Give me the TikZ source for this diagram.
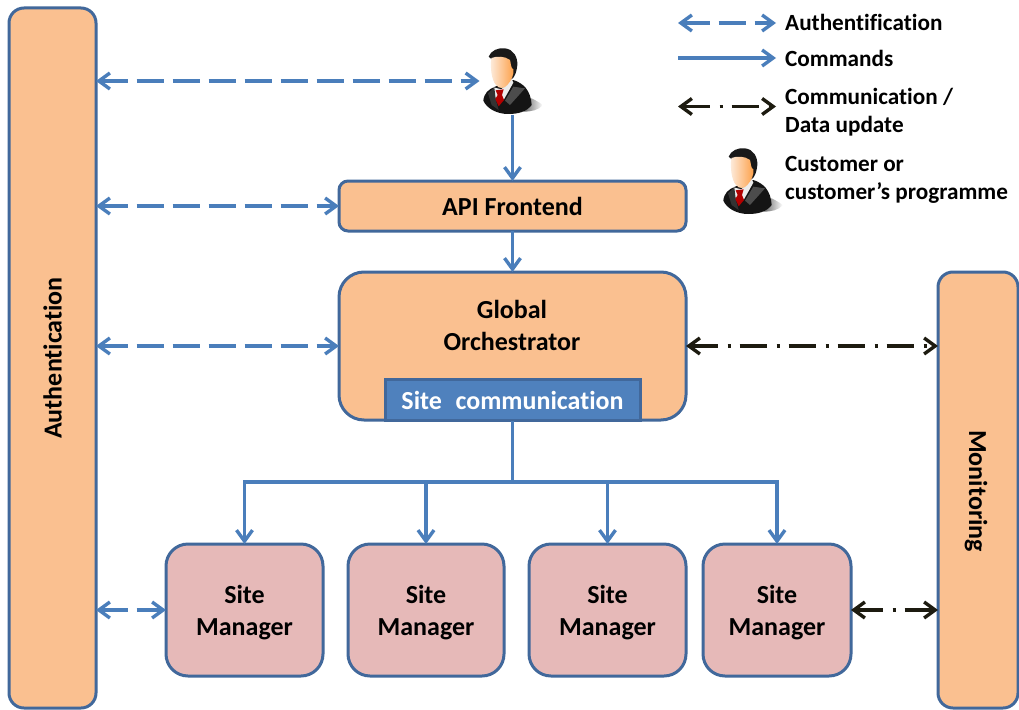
\documentclass[tikz,border=0pt]{standalone}
\usepackage{fontspec}
\setmainfont{Carlito}[Ligatures=CommonOff]
\usetikzlibrary{arrows.meta,calc}
\definecolor{edgeblue}{HTML}{41689B}
\definecolor{lineblue}{HTML}{4A7EBB}
\definecolor{fillblue}{HTML}{4F81BD}
\definecolor{orangebox}{HTML}{FAC090}
\definecolor{pinkbox}{HTML}{E6B9B8}
\definecolor{darkline}{HTML}{1D1B10}
\newcommand{\sitemgr}{\raisebox{-9.5pt}[0pt][0pt]{\begin{tabular}{@{}c@{}}Site\\Manager\end{tabular}}}
\tikzset{
  x=1pt,y=-1pt,
  lbl/.style={font=\fontsize{26}{32}\selectfont\bfseries,align=center,inner sep=0pt,text=black},
  legendlbl/.style={font=\fontsize{23.2}{28}\selectfont\bfseries,align=left,inner sep=0pt,anchor=west,text=black},
  box/.style={draw=edgeblue,line width=3pt,fill=orangebox,inner sep=0pt,outer sep=0pt,align=center,font=\fontsize{26}{32}\selectfont\bfseries,text=black},
  mgr/.style={box,fill=pinkbox,rounded corners=22pt,minimum height=132pt},
  tipset/.style={{Straight Barb[length=11pt,width=16pt,line width=3.4pt]}-{Straight Barb[length=11pt,width=16pt,line width=3.4pt]}},
  onetip/.style={-{Straight Barb[length=11pt,width=16pt,line width=3.4pt]}},
  auth/.style={draw=lineblue,line width=3.2pt,tipset,dash pattern=on 27pt off 9pt},
  cmd/.style={draw=lineblue,line width=3.2pt,onetip},
  trunk/.style={draw=lineblue,line width=3.2pt},
  comm/.style={draw=darkline,line width=3.2pt,tipset,dash pattern=on 27pt off 10pt on 3pt off 9pt},
  person/.pic={
    \begin{scope}[scale=1/3]
      \shade[left color=black!60,right color=white] (190,205) -- (215,205) .. controls (235,215) and (245,222) .. (248,226) .. controls (235,240) and (215,245) .. (190,245) -- cycle;
      \fill[black!92] (70,212) .. controls (72,190) and (85,178) .. (105,170) -- (160,150) .. controls (190,160) and (212,180) .. (215,225) .. controls (200,245) and (175,252) .. (145,252) .. controls (110,252) and (80,235) .. (70,212) -- cycle;
      \fill[white!85!gray] (100,172) -- (124,178) -- (155,148) -- (160,158) -- (132,208) -- (108,212) -- cycle;
      \fill[black!80] (84,190) -- (103,172) -- (107,208) -- (116,240) -- (95,225) -- cycle;
      \fill[black!70] (135,212) -- (160,170) -- (195,175) -- (150,225) -- cycle;
      \fill[red!70!black] (107,181) -- (131,178) -- (126,195) -- (132,210) -- (116,229) -- (106,207) -- (113,195) -- cycle;
      \fill[black!90] (86,80) .. controls (92,62) and (115,52) .. (135,55) .. controls (160,58) and (173,80) .. (172,105) .. controls (170,125) and (165,140) .. (155,148) -- (120,130) -- (92,85) -- cycle;
      \shade[left color=orangebox!30!white,right color=orange!50!orangebox] (94,84) .. controls (110,78) and (135,78) .. (150,90) .. controls (153,100) and (152,115) .. (160,118) .. controls (162,135) and (155,150) .. (142,165) .. controls (132,177) and (118,177) .. (108,165) .. controls (95,150) and (90,115) .. (94,84) -- cycle;
    \end{scope}
  }
}
\begin{document}
\begin{tikzpicture}
\useasboundingbox (0,0) rectangle (1019,709);
\fill[white] (0,0) rectangle (1019,709);
% boxes
\node[box,rounded corners=15pt,minimum width=87pt,minimum height=700pt] (authbox) at (52.5,358) {};
\node[lbl,rotate=90] (authtxt) at (52.5,358) {Authentication};
\node[box,rounded corners=15pt,minimum width=80pt,minimum height=436pt] (monbox) at (978,490) {};
\node[lbl,rotate=-90] (montxt) at (976,491) {Monitoring};
\node[box,rounded corners=9pt,minimum width=347pt,minimum height=50pt] (api) at (512.5,206) {API Frontend};
\node[box,rounded corners=25pt,minimum width=347pt,minimum height=148pt] (glob) at (512.5,346) {};
\node[lbl] (globtxt) at (512,325) {Global\\Orchestrator};
\node[box,rounded corners=0pt,fill=fillblue,draw=edgeblue,minimum width=255pt,minimum height=41pt,text=white] (sitecomm) at (512.5,400) {Site\hspace{0.3em} communication};
\node[mgr,minimum width=157pt] (sma) at (244.5,610) {\sitemgr};
\node[mgr,minimum width=156pt] (smb) at (426,610) {\sitemgr};
\node[mgr,minimum width=157pt] (smc) at (607.5,610) {\sitemgr};
\node[mgr,minimum width=148pt] (smd) at (777,610) {\sitemgr};
% persons
\node[minimum width=66pt,minimum height=68pt,inner sep=0pt,outer sep=0pt] (user) at (512.5,81) {};
\pic at (460,30) {person};
\pic at (700,130) {person};
% connectors
\draw[auth] (authbox.east |- user.west) -- (user.west);
\draw[auth] (authbox.east |- api.west) -- (api.west);
\draw[auth] (authbox.east |- glob.west) -- (glob.west);
\draw[auth] (authbox.east |- sma.west) -- (sma.west);
\draw[cmd] (user.south) -- (api.north);
\draw[cmd] (api.south) -- (glob.north);
\coordinate (bus) at (512.5,482);
\draw[trunk] (sitecomm.south) -- (bus);
\draw[cmd] (bus) -| (sma.north);
\draw[cmd] (bus) -| (smb.north);
\draw[cmd] (bus) -| (smc.north);
\draw[cmd] (bus) -| (smd.north);
\draw[comm] (glob.east) -- (monbox.west |- glob.east);
\draw[comm] (smd.east) -- (monbox.west |- smd.east);
% legend
\coordinate (la1) at (678,23); \coordinate (la2) at (776,23);
\coordinate (lb1) at (678,58); \coordinate (lb2) at (776,58);
\coordinate (lc1) at (678,106.5); \coordinate (lc2) at (776,106.5);
\draw[auth] (la1) -- (la2);
\draw[cmd] (lb1) -- (lb2);
\draw[comm] (lc1) -- (lc2);
\node[legendlbl] (lta) at (785,22.5) {Authentification};
\node[legendlbl] (ltb) at (785,58.5) {Commands};
\node[legendlbl] (ltc) at (785,112.5) {Communication /\\Data update};
\node[legendlbl] (ltd) at (785,179.5) {Customer or\\customer’s programme};
\end{tikzpicture}
\end{document}
